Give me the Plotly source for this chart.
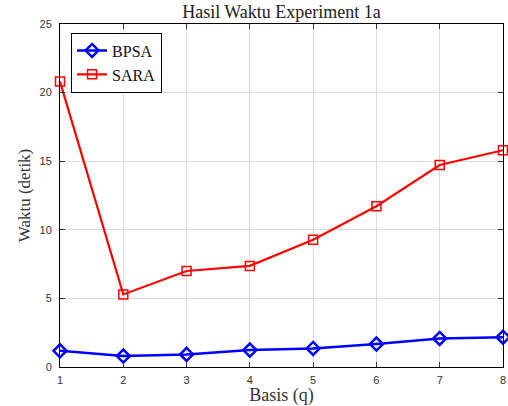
import plotly.graph_objects as go

basis = [1, 2, 3, 4, 5, 6, 7, 8]
bpsa = [1.18, 0.80, 0.92, 1.23, 1.35, 1.67, 2.08, 2.17]
sara = [20.8, 5.29, 7.0, 7.37, 9.27, 11.72, 14.72, 15.8]
x_ticks = [1, 2, 3, 4, 5, 6, 7, 8]
y_ticks = [0, 5, 10, 15, 20, 25]

serif = "Liberation Serif, Times New Roman, serif"
sans = "Liberation Sans, Arial, sans-serif"

fig = go.Figure()
fig.add_trace(go.Scatter(
    x=basis, y=bpsa, name="BPSA", mode="lines+markers",
    line=dict(color="#0000ff", width=2.5),
    marker=dict(symbol="diamond-open", size=10, color="#0000ff", line=dict(width=2.5, color="#0000ff")),
    cliponaxis=False,
))
fig.add_trace(go.Scatter(
    x=basis, y=sara, name="SARA", mode="lines+markers",
    line=dict(color="#ff0000", width=2.2),
    marker=dict(symbol="square-open", size=9, color="#ff0000", line=dict(width=1.5, color="#ff0000")),
    cliponaxis=False,
))

fig.update_layout(
    width=508, height=406,
    margin=dict(l=60, r=2, t=24, b=37),
    paper_bgcolor="white", plot_bgcolor="white",
    title=dict(text="Hasil Waktu Experiment 1a", x=0.5, xref="paper", xanchor="center",
               y=1 - 12 / 406, yref="container", yanchor="middle",
               font=dict(family=serif, size=18, color="#222222")),
    showlegend=True,
    legend=dict(x=0.025, y=0.975, xanchor="left", yanchor="top",
                bgcolor="white", bordercolor="black", borderwidth=1,
                font=dict(family=serif, size=16, color="#111111"),
                tracegroupgap=0, itemwidth=30),
    xaxis=dict(range=[1, 8], tickvals=x_ticks, ticktext=[str(v) for v in x_ticks],
               showgrid=True, gridcolor="#dcdcdc", gridwidth=1,
               showline=True, linecolor="black", linewidth=1, mirror="ticks",
               ticks="inside", ticklen=5, tickcolor="#333333",
               ticklabeloverflow="allow", ticklabelstandoff=3,
               tickfont=dict(family=sans, size=11, color="#333333"),
               title=dict(text="Basis (q)", font=dict(family=serif, size=18, color="#333333"), standoff=5),
               zeroline=False),
    yaxis=dict(range=[0, 25], tickvals=y_ticks, ticktext=[str(v) for v in y_ticks],
               showgrid=True, gridcolor="#dcdcdc", gridwidth=1,
               showline=True, linecolor="black", linewidth=1, mirror="ticks",
               ticks="inside", ticklen=5, tickcolor="#333333",
               ticklabelstandoff=5,
               tickfont=dict(family=sans, size=11, color="#333333"),
               title=dict(text="Waktu (detik)", font=dict(family=serif, size=17, color="#333333"), standoff=4),
               zeroline=False),
)

fig.write_html("out.html")
